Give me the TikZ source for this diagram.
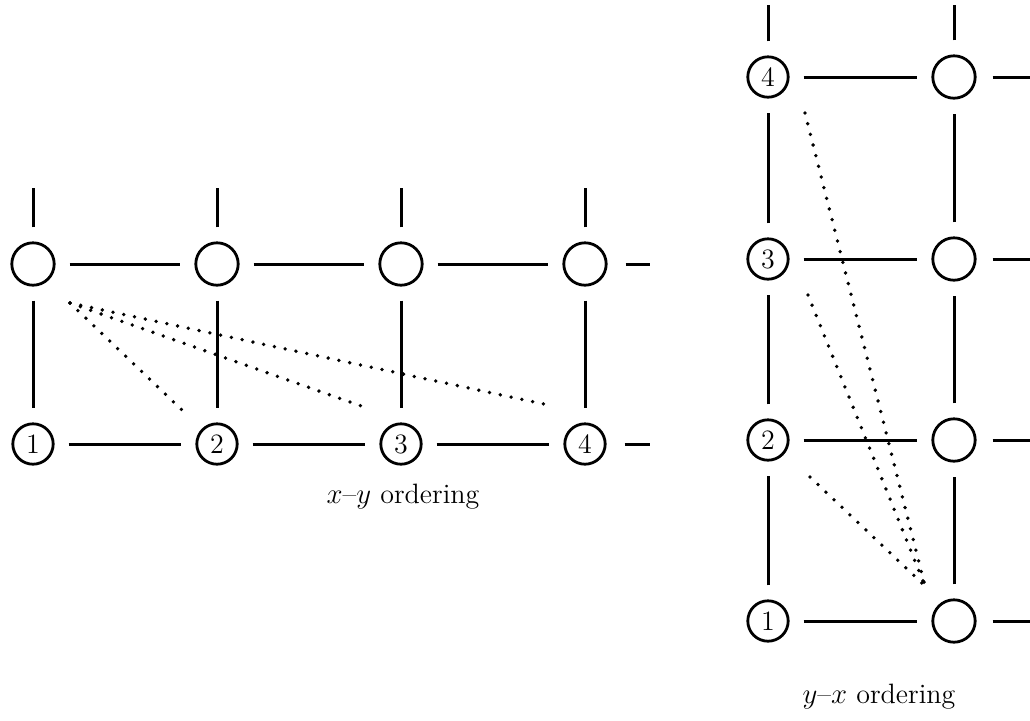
\documentclass[tikz,border=0pt]{standalone}
\begin{document}
\begin{tikzpicture}[x=0.5pt,y=-0.5pt,
  empty/.style={circle,draw,line width=1.4pt,minimum size=21.2pt,inner sep=0pt},
  num/.style={circle,draw,line width=1.4pt,minimum size=20.2pt,inner sep=0pt,font=\fontsize{14}{16}\selectfont},
  edge/.style={line width=1.5pt,shorten >=7pt,shorten <=7pt},
  stub/.style={line width=1.5pt,shorten <=7pt},
  dots/.style={line width=1.9pt,line cap=round,dash pattern=on 0pt off 5.5pt},
  captext/.style={font=\fontsize{14}{16}\selectfont}]
\useasboundingbox (0,0) rectangle (1030,720);
% ---------- left grid (x-y ordering) ----------
\foreach \i/\x in {1/33,2/217,3/401,4/585}{
  \node[empty] (a\i) at (\x,264) {};
  \node[num] (b\i) at (\x,444) {\i};
  \coordinate (t\i) at (\x,188);
}
\coordinate (ra) at (650,264);
\coordinate (rb) at (650,444);
\foreach \i in {1,2,3,4}{
  \draw[stub] (a\i) -- (t\i);
  \draw[edge] (a\i) -- (b\i);
}
\foreach \i/\j in {1/2,2/3,3/4}{
  \draw[edge] (a\i) -- (a\j);
  \draw[edge] (b\i) -- (b\j);
}
\draw[stub,shorten <=9pt] (a4) -- (ra);
\draw[stub,shorten <=9pt] (b4) -- (rb);
% dotted lines
\coordinate (p) at (70,303);
\coordinate (q2) at (183,411);
\coordinate (q3) at (367,408);
\coordinate (q4) at (553,406);
\draw[dots] (p) -- (q2);
\draw[dots] (p) -- (q3);
\draw[dots] (p) -- (q4);
\node[captext] (capA) at (403,497) {$x$--$y$ ordering};
% ---------- right grid (y-x ordering) ----------
\foreach \i/\y in {1/621,2/440,3/259,4/77}{
  \node[num] (c\i) at (768,\y) {\i};
  \node[empty] (d\i) at (954,\y) {};
  \coordinate (rd\i) at (1030,\y);
  \draw[edge] (c\i) -- (d\i);
  \draw[stub,shorten <=8pt] (d\i) -- (rd\i);
}
\coordinate (tc) at (768,5);
\coordinate (td) at (954,5);
\draw[stub] (c4) -- (tc);
\draw[stub] (d4) -- (td);
\foreach \i/\j in {1/2,2/3,3/4}{
  \draw[edge] (c\i) -- (c\j);
  \draw[edge] (d\i) -- (d\j);
}
\coordinate (s) at (925,586);
\coordinate (s4) at (805,113);
\coordinate (s3) at (808,295);
\coordinate (s2) at (810,477);
\draw[dots] (s4) -- (s);
\draw[dots] (s3) -- (s);
\draw[dots] (s2) -- (s);
\node[captext] (capB) at (879,697) {$y$--$x$ ordering};
\end{tikzpicture}
\end{document}
